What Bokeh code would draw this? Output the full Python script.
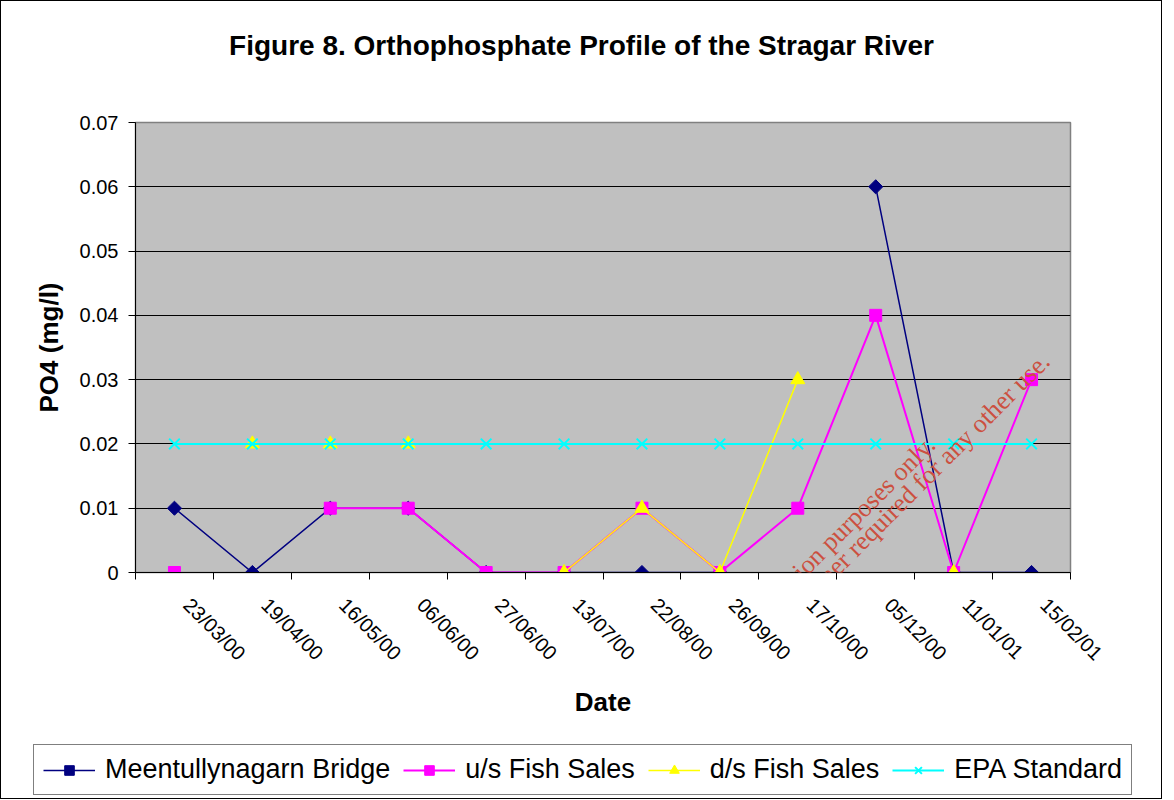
import numpy as np
from bokeh.plotting import figure
from bokeh.layouts import column
from bokeh.models import FixedTicker, Legend, LegendItem, Label, Range1d
from bokeh.embed import file_html
from bokeh.resources import INLINE

nan = float("nan")

title_text = "Figure 8. Orthophosphate Profile of the Stragar River"
dates = ["23/03/00", "19/04/00", "16/05/00", "06/06/00", "27/06/00", "13/07/00",
         "22/08/00", "26/09/00", "17/10/00", "05/12/00", "11/01/01", "15/02/01"]
meentullynagarn_bridge = [0.01, 0.0, 0.01, 0.01, 0.0, 0.0, 0.0, 0.0, nan, 0.06, 0.0, 0.0]
us_fish_sales = [0.0, nan, 0.01, 0.01, 0.0, 0.0, 0.01, 0.0, 0.01, 0.04, 0.0, 0.03]
ds_fish_sales = [nan, 0.02, 0.02, 0.02, nan, 0.0, 0.01, 0.0, 0.03, nan, 0.0, nan]
epa_standard = [0.02] * 12
y_ticks = [0.0, 0.01, 0.02, 0.03, 0.04, 0.05, 0.06, 0.07]
y_tick_labels = ["0", "0.01", "0.02", "0.03", "0.04", "0.05", "0.06", "0.07"]
watermark_lines = ["For inspection purposes only.",
                   "Consent of copyright owner required for any other use."]

xs = list(range(len(dates)))
FONT = "Liberation Sans"
LABEL_SHIFT = 0.16  # rotated date labels sit slightly right of the category centre
W = 1160


def no_frame_align(fig):
    try:
        fig.frame_align = False
    except Exception:
        pass


# ---- title strip ----
pt = figure(width=W, height=70, output_backend="svg", toolbar_location=None,
            x_range=Range1d(0, 1), y_range=Range1d(0, 70),
            x_axis_location=None, y_axis_location=None, min_border=0)
no_frame_align(pt)
pt.outline_line_color = None
pt.grid.grid_line_color = None
pt.background_fill_color = "white"
pt.add_layout(Label(x=0.5, y=26, text=title_text, text_align="center", text_baseline="middle",
                    text_font=FONT, text_font_size="28px", text_font_style="bold",
                    text_color="black"))

# ---- main chart ----
p = figure(width=W, height=665, output_backend="svg", toolbar_location=None,
           x_range=Range1d(-0.5, len(dates) - 0.5), y_range=Range1d(0, 0.07),
           min_border_left=134, min_border_right=91, min_border_top=51,
           min_border_bottom=164)
no_frame_align(p)
p.title.visible = False
p.background_fill_color = "#C0C0C0"
p.border_fill_color = "white"
p.outline_line_color = "#808080"
p.outline_line_width = 1.5

p.xgrid.grid_line_color = None
p.ygrid.grid_line_color = "black"
p.ygrid.grid_line_width = 1

p.yaxis.ticker = FixedTicker(ticks=y_ticks)
p.yaxis.major_label_overrides = {t: l for t, l in zip(y_ticks, y_tick_labels)}
p.yaxis.major_label_text_font = FONT
p.yaxis.major_label_text_font_size = "20px"
p.yaxis.major_label_text_color = "black"
p.yaxis.major_label_standoff = 10
p.yaxis.major_tick_out = 7
p.yaxis.major_tick_in = 0
p.yaxis.minor_tick_line_color = None
p.yaxis.axis_line_color = "black"
p.yaxis.axis_label = "PO4 (mg/l)"
p.yaxis.axis_label_text_font = FONT
p.yaxis.axis_label_text_font_size = "26px"
p.yaxis.axis_label_text_font_style = "bold"
p.yaxis.axis_label_text_color = "black"
p.yaxis.axis_label_standoff = 13

label_pos = [i + LABEL_SHIFT for i in xs]
p.xaxis.ticker = FixedTicker(ticks=label_pos, minor_ticks=[i - 0.5 for i in range(len(dates) + 1)])
p.xaxis.major_label_overrides = {t: d for t, d in zip(label_pos, dates)}
p.xaxis.major_label_orientation = -np.pi / 4
p.xaxis.major_label_text_font = FONT
p.xaxis.major_label_text_font_size = "20px"
p.xaxis.major_label_text_color = "black"
p.xaxis.major_label_standoff = 22
p.xaxis.major_tick_line_color = None
p.xaxis.minor_tick_out = 7
p.xaxis.minor_tick_in = 0
p.xaxis.minor_tick_line_color = "black"
p.xaxis.axis_line_color = "black"
p.xaxis.axis_label = "Date"
p.xaxis.axis_label_text_font = FONT
p.xaxis.axis_label_text_font_size = "26px"
p.xaxis.axis_label_text_font_style = "bold"
p.xaxis.axis_label_text_color = "black"
p.xaxis.axis_label_standoff = 12

series = [
    ("Meentullynagarn Bridge", meentullynagarn_bridge, "#000080", 1.5, dict(marker="square", size=10, angle=np.pi / 4)),
    ("u/s Fish Sales", us_fish_sales, "#FF00FF", 2, dict(marker="square", size=12)),
    ("d/s Fish Sales", ds_fish_sales, "#FFFF00", 1.5, dict(marker="triangle", size=14)),
    ("EPA Standard", epa_standard, "#00FFFF", 2, dict(marker="x", size=15, line_width=2)),
]

for name, vals, color, lw, mk in series:
    p.line(xs, vals, line_color=color, line_width=lw)
    p.scatter(xs, vals, fill_color=color, line_color=color, **mk)

# watermark, one label per line
wm_pos = [(8.32, 0.0037), (8.58, 0.0020)]
for (wx, wy), txt in zip(wm_pos, watermark_lines):
    p.add_layout(Label(x=wx, y=wy, text=txt, angle=np.pi / 4,
                       text_align="center", text_baseline="middle",
                       text_font="Liberation Serif", text_font_size="26px",
                       text_color="#CC5040"))

# ---- legend strip (same styles as the series above) ----
pl = figure(width=W, height=62, output_backend="svg", toolbar_location=None,
            x_range=Range1d(0, 1), y_range=Range1d(0, 1),
            x_axis_location=None, y_axis_location=None, min_border=0)
no_frame_align(pl)
pl.outline_line_color = None
pl.grid.grid_line_color = None
pl.background_fill_color = "white"
items = []
for name, vals, color, lw, mk in series:
    ln = pl.line([nan], [nan], line_color=color, line_width=lw)
    sc = pl.scatter([nan], [nan], fill_color=color, line_color=color, **mk)
    items.append(LegendItem(label=name, renderers=[ln, sc]))
legend = Legend(items=items, orientation="horizontal", location=(32, 3))
legend.label_text_font = FONT
legend.label_text_font_size = "27px"
legend.label_text_color = "black"
legend.glyph_width = 52
legend.glyph_height = 24
legend.spacing = 13
legend.label_standoff = 10
legend.padding = 9
legend.margin = 0
legend.border_line_color = "black"
legend.border_line_width = 1
legend.background_fill_color = "white"
legend.background_fill_alpha = 1.0
pl.add_layout(legend, "center")

layout = column(pt, p, pl, spacing=0, styles={"border": "1px solid black"})

open("out.html", "w").write(file_html(layout, INLINE))
